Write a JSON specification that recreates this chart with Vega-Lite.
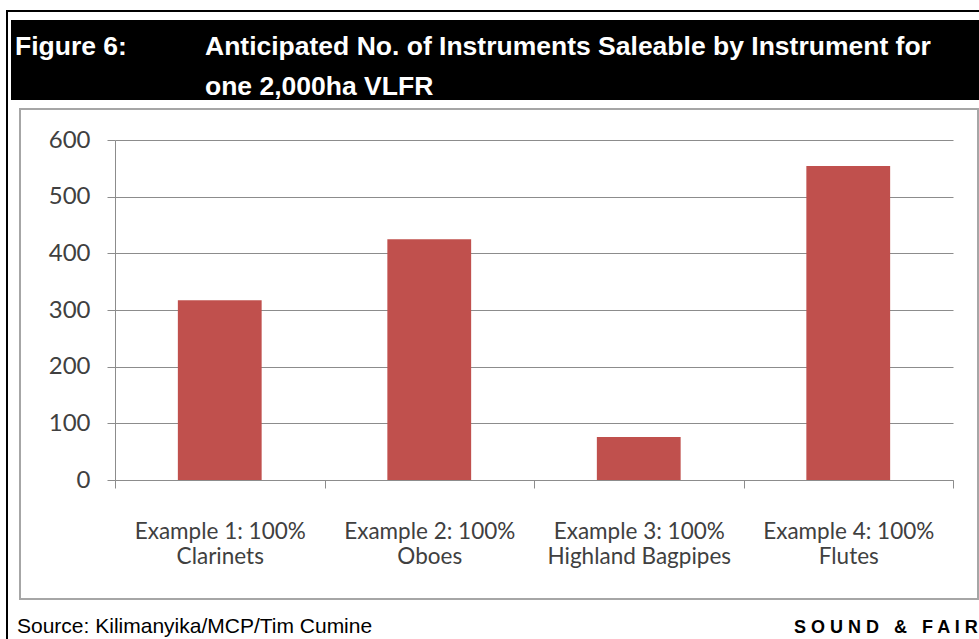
{
  "$schema": "https://vega.github.io/schema/vega-lite/v6.json",
  "background": "white",
  "padding": {"left": 6, "top": 10, "right": 0, "bottom": 0},
  "config": {"view": {"stroke": null}},
  "spacing": 0,
  "vconcat": [
    {
      "width": 973,
      "height": 2,
      "view": {"fill": "black", "stroke": null},
      "data": {"values": []},
      "mark": {"type": "text", "fontSize": 0},
      "encoding": {"text": {"field": "t"}}
    },
    {
      "spacing": 3,
      "hconcat": [
        {
          "width": 2,
          "height": 627,
          "view": {"fill": "black", "stroke": null},
          "data": {"values": []},
          "mark": {"type": "text", "fontSize": 0},
          "encoding": {"text": {"field": "t"}}
        },
        {
          "spacing": 7,
          "vconcat": [
            {
              "width": 968,
              "height": 1,
              "view": {"stroke": null},
              "data": {"values": []},
              "mark": {"type": "text", "fontSize": 0},
              "encoding": {"text": {"field": "t"}}
            },
            {
              "width": 968,
              "height": 80,
              "view": {"fill": "black", "stroke": null},
              "data": {"values": [
                {"col": "label", "line": 1, "text": "Figure 6:"},
                {"col": "title", "line": 1, "text": "Anticipated No. of Instruments Saleable by Instrument for"},
                {"col": "title", "line": 2, "text": "one 2,000ha VLFR"}
              ]},
              "mark": {"type": "text", "font": "Liberation Sans", "fontWeight": "bold", "fontSize": 26.5, "fill": "white", "align": "left", "baseline": "alphabetic"},
              "encoding": {
                "x": {"field": "col", "type": "nominal", "scale": {"type": "point", "domain": ["label", "title"], "range": [4, 194], "padding": 0}, "axis": null},
                "y": {"field": "line", "type": "ordinal", "scale": {"type": "point", "domain": [1, 2], "range": [35, 75], "padding": 0}, "axis": null},
                "text": {"field": "text"}
              }
            },
            {
              "spacing": 7,
              "hconcat": [
                {
                  "width": 1,
                  "height": 1,
                  "view": {"stroke": null},
                  "data": {"values": []},
                  "mark": {"type": "text", "fontSize": 0},
                  "encoding": {"text": {"field": "t"}}
                },
                {
                  "width": 958,
                  "height": 490,
                  "view": {"stroke": "#a6a6a6", "strokeWidth": 2},
                  "data": {"values": [
                    {"example": "Example 1: 100%\nClarinets", "instruments": 317},
                    {"example": "Example 2: 100%\nOboes", "instruments": 425},
                    {"example": "Example 3: 100%\nHighland Bagpipes", "instruments": 76},
                    {"example": "Example 4: 100%\nFlutes", "instruments": 554}
                  ]},
                  "mark": {"type": "bar", "color": "#C0504D", "width": {"band": 0.4}},
                  "encoding": {
                    "x": {
                      "field": "example", "type": "nominal", "sort": null,
                      "scale": {"range": [95, 933], "paddingInner": 0, "paddingOuter": 0},
                      "axis": {
                        "orient": "bottom", "offset": -119, "title": null, "grid": false,
                        "tickBand": "extent", "tickSize": 8, "tickColor": "#8c8c8c", "domainColor": "#8c8c8c",
                        "labelAngle": 0, "labelFont": "Lato", "labelFontSize": 22.5, "labelColor": "#404040",
                        "labelPadding": 32, "labelLineHeight": 25, "labelLimit": 400,
                        "labelExpr": "split(datum.label, '\\n')"
                      }
                    },
                    "y": {
                      "field": "instruments", "type": "quantitative",
                      "scale": {"domain": [0, 600], "range": [371, 31], "nice": false},
                      "axis": {
                        "orient": "left", "offset": -95, "title": null,
                        "values": [0, 100, 200, 300, 400, 500, 600],
                        "grid": true, "gridColor": "#8c8c8c", "gridWidth": 1,
                        "domainColor": "#8c8c8c", "tickColor": "#8c8c8c", "tickSize": 8,
                        "labelFont": "Lato", "labelFontSize": 24, "labelColor": "#404040", "labelPadding": 17
                      }
                    }
                  }
                }
              ]
            },
            {
              "width": 968,
              "height": 33,
              "view": {"stroke": null},
              "layer": [
                {
                  "data": {"values": [{"pos": "left", "line": 1, "text": "Source: Kilimanyika/MCP/Tim Cumine"}]},
                  "mark": {"type": "text", "font": "Liberation Sans", "fontSize": 21, "fill": "black", "align": "left", "baseline": "alphabetic"},
                  "encoding": {
                    "x": {"field": "pos", "type": "nominal", "scale": {"type": "point", "domain": ["left", "right"], "range": [6, 783], "padding": 0}, "axis": null},
                    "y": {"field": "line", "type": "ordinal", "scale": {"type": "point", "domain": [1], "range": [26, 26], "padding": 0}, "axis": null},
                    "text": {"field": "text"}
                  }
                },
                {
                  "data": {"values": [{"pos": "right", "line": 1, "text": "S O U N D\u00a0\u00a0\u00a0&\u00a0\u00a0\u00a0F A I R"}]},
                  "mark": {"type": "text", "font": "Liberation Sans", "fontWeight": "bold", "fontSize": 18, "fill": "black", "align": "left", "baseline": "alphabetic"},
                  "encoding": {
                    "x": {"field": "pos", "type": "nominal", "axis": null},
                    "y": {"field": "line", "type": "ordinal", "axis": null},
                    "text": {"field": "text"}
                  }
                }
              ]
            }
          ]
        }
      ]
    }
  ]
}
